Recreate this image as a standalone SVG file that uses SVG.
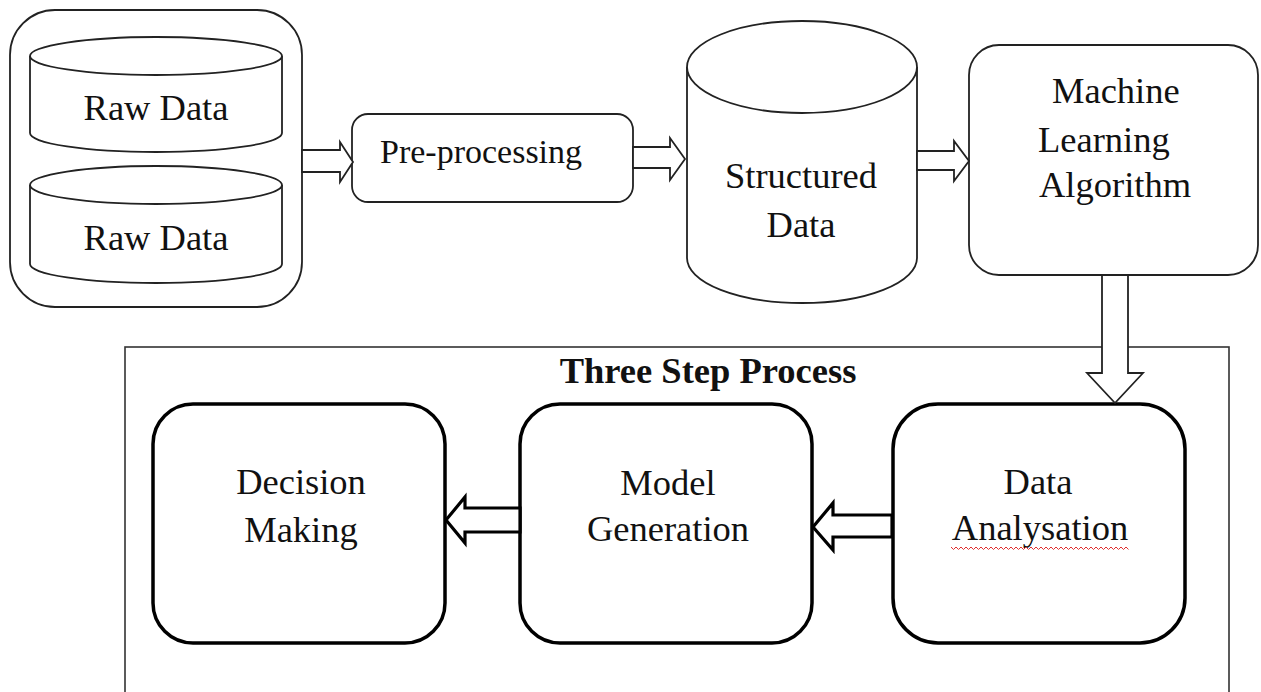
<svg xmlns="http://www.w3.org/2000/svg" width="1261" height="692" viewBox="0 0 1261 692">
<style>
.thin{fill:#fff;stroke:#222;stroke-width:1.8}
.thick{fill:#fff;stroke:#000;stroke-width:3.5}
.arr{fill:#fff;stroke:#222;stroke-width:1.8;stroke-linejoin:miter}
.arrb{fill:#fff;stroke:#000;stroke-width:3.2;stroke-linejoin:miter}
.t{font-family:"Liberation Serif","Times New Roman",serif;font-size:36.5px;fill:#111;text-anchor:middle}
.ts{text-anchor:start}
.b{font-weight:bold}
</style>
<rect width="1261" height="692" fill="#fff"/>
<g id="frame">
<rect x="125" y="347" width="1104" height="360" fill="none" stroke="#333" stroke-width="1.6"/>
<text class="t b" x="708" y="383">Three Step Process</text>
</g>
<g id="raw-data-group">
<rect class="thin" x="10" y="10" width="292" height="297" rx="45"/>
</g>
<g id="raw-data-1">
<path class="thin" d="M30,56 L30,133 A126,19 0 0 0 282,133 L282,56"/>
<ellipse class="thin" cx="156" cy="56" rx="126" ry="19"/>
<text class="t" x="156" y="120">Raw Data</text>
</g>
<g id="raw-data-2">
<path class="thin" d="M30,185 L30,264 A126,19 0 0 0 282,264 L282,185"/>
<ellipse class="thin" cx="156" cy="185" rx="126" ry="19"/>
<text class="t" x="156" y="250">Raw Data</text>
</g>
<g id="pre-processing">
<rect class="thin" x="352" y="114" width="281" height="88" rx="16"/>
<text class="t ts" x="380" y="163" style="font-size:34px">Pre-processing</text>
</g>
<g id="structured-data">
<path class="thin" d="M687,67 L687,258 A115,45 0 0 0 917,258 L917,67"/>
<ellipse class="thin" cx="802" cy="67" rx="115" ry="46"/>
<text class="t" x="801" y="188">Structured</text>
<text class="t" x="801" y="237">Data</text>
</g>
<g id="ml-algorithm">
<rect class="thin" x="969" y="45" width="289" height="230" rx="30"/>
<text class="t ts" x="1052" y="103">Machine</text>
<text class="t ts" x="1038" y="152">Learning</text>
<text class="t ts" x="1039" y="197">Algorithm</text>
</g>
<g id="decision-making">
<rect class="thick" x="153" y="404" width="292" height="239" rx="40"/>
<text class="t" x="301" y="494">Decision</text>
<text class="t" x="301" y="542">Making</text>
</g>
<g id="model-generation">
<rect class="thick" x="520" y="404" width="292" height="239" rx="40"/>
<text class="t" x="668" y="495">Model</text>
<text class="t" x="668" y="541">Generation</text>
</g>
<g id="data-analysation">
<rect class="thick" x="893" y="404" width="292" height="239" rx="45"/>
<text class="t" x="1038" y="494">Data</text>
<text class="t" x="1040" y="540">Analysation</text>
<path d="M951,547 l2.5,2.5 l2.5,-2.5 l2.5,2.5 l2.5,-2.5 l2.5,2.5 l2.5,-2.5 l2.5,2.5 l2.5,-2.5 l2.5,2.5 l2.5,-2.5 l2.5,2.5 l2.5,-2.5 l2.5,2.5 l2.5,-2.5 l2.5,2.5 l2.5,-2.5 l2.5,2.5 l2.5,-2.5 l2.5,2.5 l2.5,-2.5 l2.5,2.5 l2.5,-2.5 l2.5,2.5 l2.5,-2.5 l2.5,2.5 l2.5,-2.5 l2.5,2.5 l2.5,-2.5 l2.5,2.5 l2.5,-2.5 l2.5,2.5 l2.5,-2.5 l2.5,2.5 l2.5,-2.5 l2.5,2.5 l2.5,-2.5 l2.5,2.5 l2.5,-2.5 l2.5,2.5 l2.5,-2.5 l2.5,2.5 l2.5,-2.5 l2.5,2.5 l2.5,-2.5 l2.5,2.5 l2.5,-2.5 l2.5,2.5 l2.5,-2.5 l2.5,2.5 l2.5,-2.5 l2.5,2.5 l2.5,-2.5 l2.5,2.5 l2.5,-2.5 l2.5,2.5 l2.5,-2.5 l2.5,2.5 l2.5,-2.5 l2.5,2.5 l2.5,-2.5 l2.5,2.5 l2.5,-2.5 l2.5,2.5 l2.5,-2.5 l2.5,2.5 l2.5,-2.5 l2.5,2.5 l2.5,-2.5 l2.5,2.5 l2.5,-2.5 l2.5,2.5" fill="none" stroke="#e03030" stroke-width="1"/>
</g>
<g id="connectors">
<polygon class="arr" points="302,150 340,150 340,142 353,162 340,182 340,172 302,172"/>
<polygon class="arr" points="633,147 670,147 670,138 685,159 670,180 670,168 633,168"/>
<polygon class="arr" points="917,151 954,151 954,141 969,161 954,181 954,170 917,170"/>
<polygon class="arr" points="1102,275 1128,275 1128,373 1143,373 1115,403 1087,373 1102,373"/>
<polygon class="arrb" points="520,508 465,508 465,497 446,520 465,543 465,532 520,532"/>
<polygon class="arrb" points="892,515 833,515 833,503 813,527 833,550 833,537 892,537"/>
</g>
</svg>
